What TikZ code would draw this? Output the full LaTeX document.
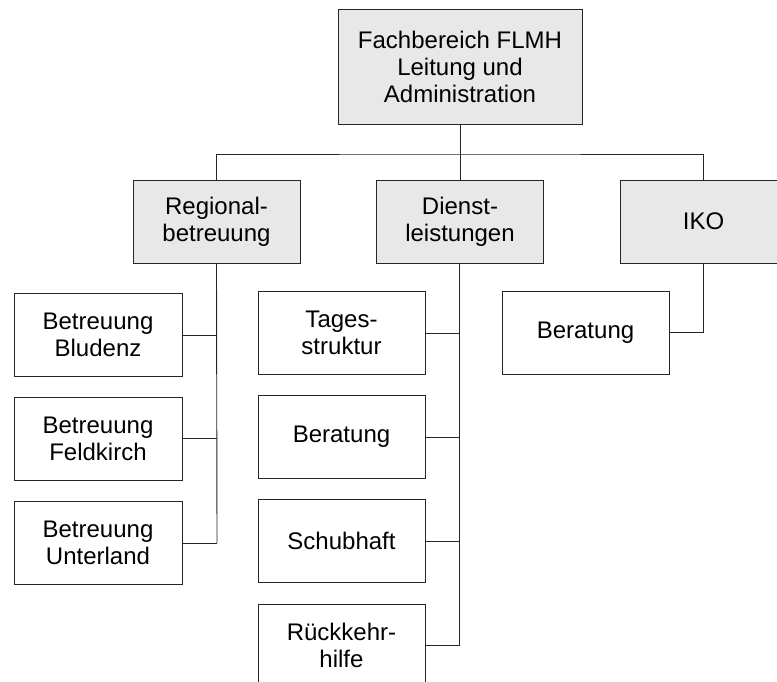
\documentclass[tikz,border=0pt]{standalone}
\usepackage{fontspec}
\setmainfont{Liberation Sans}
\begin{document}
\begin{tikzpicture}[x=1pt,y=-1pt,
  box/.style={draw=black!85, line width=0.9pt, rectangle, inner sep=0pt, align=center,
    font=\fontsize{24}{27}\selectfont, text=black},
  unitbox/.style={box, fill=black!9, minimum width=167pt, minimum height=83pt},
  subbox/.style={box, fill=white, minimum width=167pt, minimum height=83pt},
  conn/.style={draw=black!85, line width=0.9pt}]
\useasboundingbox (0,0) rectangle (777,682);
\clip (0,0) rectangle (777,682);
\fill[white] (0,0) rectangle (777,682);
% top
\node[box, fill=black!9, minimum width=244pt, minimum height=115pt] (top) at (460,66.5) {Fachbereich FLMH\\Leitung und\\Administration};
% second level
\node[unitbox] (reg) at (216.5,221.5) {Regional-\\betreuung};
\node[unitbox] (dien) at (460,221.5) {Dienst-\\leistungen};
\node[unitbox] (iko) at (703.5,221.5) {IKO};
% left column
\node[subbox, minimum width=168pt] (blu) at (98,335) {Betreuung\\Bludenz};
\node[subbox, minimum width=168pt] (feld) at (98,438.5) {Betreuung\\Feldkirch};
\node[subbox, minimum width=168pt] (unt) at (98,543) {Betreuung\\Unterland};
% middle column
\node[subbox] (tag) at (341.5,333) {Tages-\\struktur};
\node[subbox] (ber) at (341.5,437) {Beratung};
\node[subbox] (schub) at (341.5,541) {Schubhaft};
\node[subbox] (rueck) at (341.5,645.5) {Rückkehr-\\hilfe};
% right
\node[subbox] (ikober) at (585.5,332.5) {Beratung};
% connectors
\coordinate (bus) at (460,154);
\draw[conn] (top.south) -- (bus);
\draw[conn] (reg.north) |- (bus) -| (iko.north);
\draw[conn] (bus) -- (dien.north);
\coordinate (lbot) at (217,543);
\draw[conn] (reg.south) -- (lbot);
\draw[conn] (blu.east) -- (blu.east -| lbot);
\draw[conn] (feld.east) -- (feld.east -| lbot);
\draw[conn] (unt.east) -- (lbot);
\coordinate (mbot) at (459,645.5);
\draw[conn] (dien.south -| mbot) -- (mbot);
\draw[conn] (tag.east) -- (tag.east -| mbot);
\draw[conn] (ber.east) -- (ber.east -| mbot);
\draw[conn] (schub.east) -- (schub.east -| mbot);
\draw[conn] (rueck.east) -- (mbot);
\draw[conn] (ikober.east) -| (iko.south);
\end{tikzpicture}
\end{document}
